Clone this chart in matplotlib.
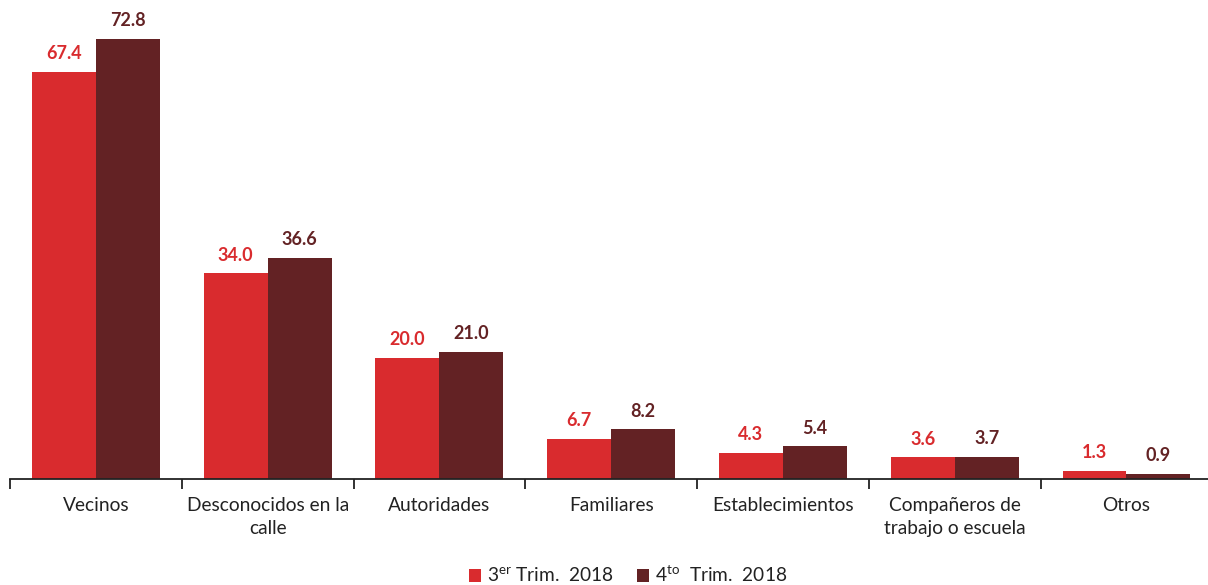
import matplotlib
matplotlib.use("Agg")
import matplotlib.pyplot as plt
import numpy as np

categories = ["Vecinos", "Desconocidos en la\ncalle", "Autoridades", "Familiares",
              "Establecimientos", "Compañeros de\ntrabajo o escuela", "Otros"]
trim3 = [67.4, 34.0, 20.0, 6.7, 4.3, 3.6, 1.3]
trim4 = [72.8, 36.6, 21.0, 8.2, 5.4, 3.7, 0.9]
series_labels = ["3$^{\\mathrm{er}}$ Trim.  2018", "4$^{\\mathrm{to}}$  Trim.  2018"]

c3 = "#D92B2E"
c4 = "#632224"

plt.rcParams['font.family'] = ['Lato', 'DejaVu Sans']
plt.rcParams['mathtext.fontset'] = 'custom'
plt.rcParams['mathtext.rm'] = 'Lato'

W, H = 1208, 585
fig = plt.figure(figsize=(W/100, H/100), dpi=100)
ax = fig.add_axes([10/W, (H-479)/H, 1204/W, 479/H])

x = np.arange(len(categories))
bw = 0.372
b1 = ax.bar(x - bw/2, trim3, bw, color=c3, label=series_labels[0])
b2 = ax.bar(x + bw/2, trim4, bw, color=c4, label=series_labels[1])

for rects, vals, col in [(b1, trim3, c3), (b2, trim4, c4)]:
    for r, v in zip(rects, vals):
        ax.annotate(f"{v:.1f}", (r.get_x() + r.get_width()/2, r.get_height()),
                    xytext=(0, 7), textcoords="offset points", ha="center", va="bottom",
                    fontsize=13, fontweight="bold", color=col)

ax.set_xlim(-0.5, len(categories) - 0.5 + 0.01)
ax.set_ylim(0, 79.25)
ax.set_yticks([])
for s in ["top", "right", "left"]:
    ax.spines[s].set_visible(False)
ax.spines["bottom"].set_linewidth(1.3)
ax.spines["bottom"].set_color("#222222")

ax.set_xticks(x)
ax.set_xticklabels(categories, fontsize=13.8, color="#222222", linespacing=1.4)
ax.tick_params(axis="x", which="major", length=0, pad=13)
ax.set_xticks(np.arange(len(categories) + 1) - 0.5, minor=True)
ax.tick_params(axis="x", which="minor", length=7, width=1.3, color="#222222", direction="out")

leg = fig.legend(handles=[b1, b2], labels=series_labels, loc="center",
                 bbox_to_anchor=(628/W, 1 - 575/H), ncol=2, frameon=False,
                 fontsize=13.8, handlelength=0.65, handleheight=0.65, handletextpad=0.3,
                 columnspacing=1.2, borderaxespad=0)
for t in leg.get_texts():
    t.set_color("#222222")

fig.savefig("out.png", dpi=100)
